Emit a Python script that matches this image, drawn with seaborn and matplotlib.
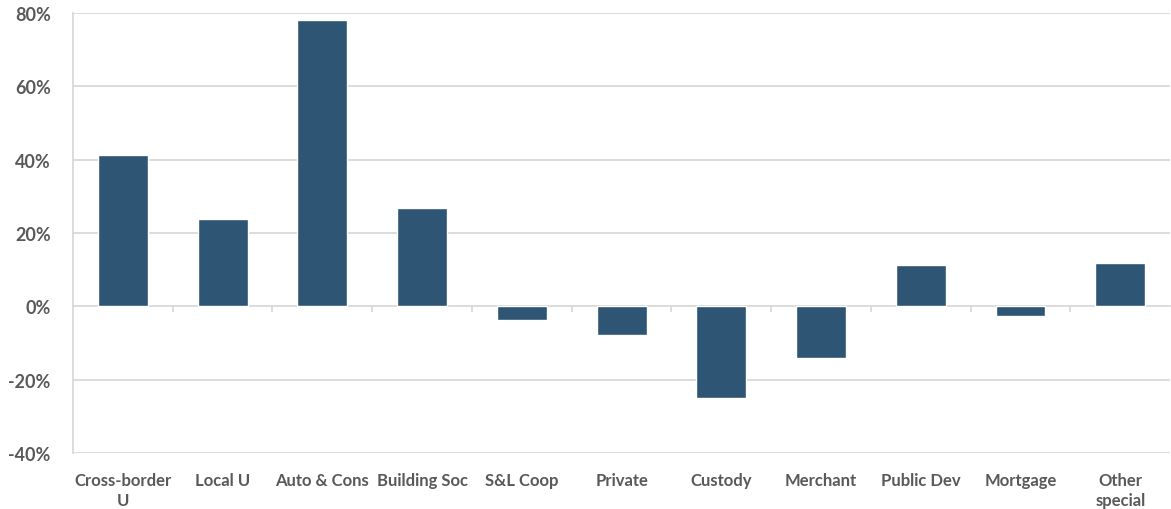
import numpy as np
import pandas as pd
import matplotlib
matplotlib.use("Agg")
import matplotlib.pyplot as plt
import seaborn as sns
from matplotlib.ticker import FuncFormatter, FixedLocator

# Data
categories = ["Cross-border\nU", "Local U", "Auto & Cons", "Building Soc", "S&L Coop",
              "Private", "Custody", "Merchant", "Public Dev", "Mortgage", "Other\nspecial"]
values = [41.2, 23.7, 78.0, 26.7, -3.8, -7.9, -25.1, -14.2, 11.2, -2.5, 11.9]
y_ticks = [-40, -20, 0, 20, 40, 60, 80]

df = pd.DataFrame({"category": categories, "value": values})

sns.set_theme(style="white")
plt.rcParams["font.family"] = ["Lato", "DejaVu Sans"]

fig = plt.figure(figsize=(11.71, 5.10), dpi=100)
ax = fig.add_axes([0.0623, 0.1098, 0.937, 0.8627])

sns.barplot(data=df, x="category", y="value", color="#2E5573", saturation=1,
            width=0.5, ax=ax)

ax.set_ylim(-40, 80)
ax.set_xlim(-0.5, len(categories) - 0.5)
ax.set_yticks(y_ticks)
ax.yaxis.set_major_formatter(FuncFormatter(lambda v, _: f"{v:.0f}%"))
ax.tick_params(axis="y", length=0, pad=16, labelsize=13, labelcolor="#595959")
for lbl in ax.get_yticklabels():
    lbl.set_fontweight("bold")

# gridlines (zero line drawn as axis line)
for t in y_ticks:
    if t != 0:
        ax.axhline(t, color="#D9D9D9", lw=1.3, zorder=0)

# zero axis line with category separator ticks
ax.spines["bottom"].set_position(("data", 0))
ax.spines["bottom"].set_color("#D9D9D9")
ax.spines["bottom"].set_linewidth(1.3)
ax.spines["bottom"].set_zorder(0.5)
ax.set_xticks([])
ax.xaxis.set_minor_locator(FixedLocator(np.arange(0.5, len(categories) - 1, 1)))
ax.tick_params(axis="x", which="minor", direction="out", length=4, width=1.3, color="#D9D9D9", bottom=True)

ax.spines["left"].set_color("#D9D9D9")
ax.spines["left"].set_linewidth(1.3)
ax.spines["top"].set_visible(False)
ax.spines["right"].set_visible(False)
ax.set_xlabel("")
ax.set_ylabel("")

# category labels along the bottom
sec = ax.secondary_xaxis("bottom")
sec.set_xticks(range(len(categories)))
sec.set_xticklabels(categories, fontsize=12, fontweight="bold", color="#595959", linespacing=1.3)
sec.tick_params(length=0, pad=14)
sec.spines["bottom"].set_visible(False)

fig.savefig("out.png", dpi=100)
